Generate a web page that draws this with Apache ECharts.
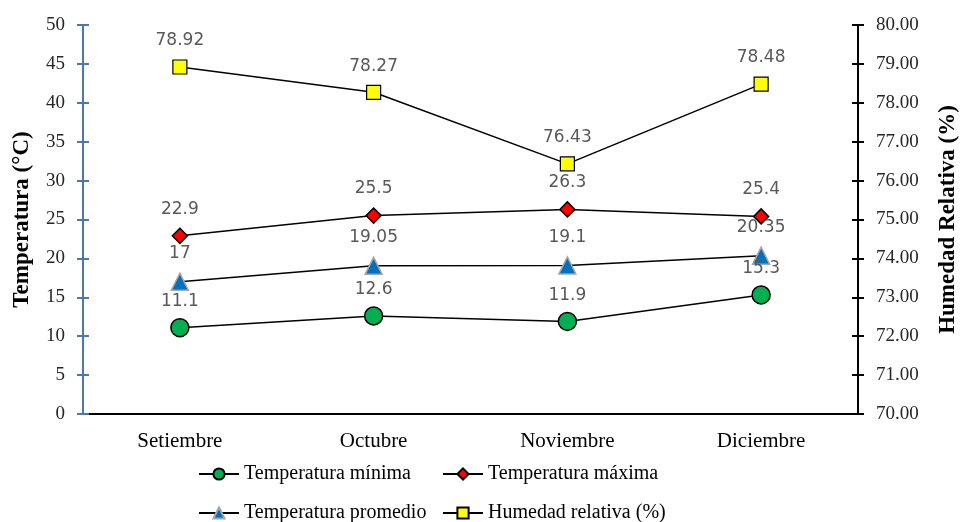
<!DOCTYPE html>
<html><head><meta charset="utf-8">
<script src="https://cdn.jsdelivr.net/npm/echarts@6/dist/echarts.min.js"></script>
<style>html,body{margin:0;padding:0;background:#fff}#c{width:960px;height:522px}</style>
</head><body><div id="c"></div>
<script>
var categories = ['Setiembre', 'Octubre', 'Noviembre', 'Diciembre'];
var tempMin = [11.1, 12.6, 11.9, 15.3];
var tempMax = [22.9, 25.5, 26.3, 25.4];
var tempProm = [17, 19.05, 19.1, 20.35];
var humedad = [78.92, 78.27, 76.43, 78.48];
var names = ['Temperatura mínima', 'Temperatura máxima', 'Temperatura promedio', 'Humedad relativa (%)'];

var serif = '"Liberation Serif", "Times New Roman", serif';
var lblStyle = {show: true, position: 'top', distance: 10, color: '#595959', fontFamily: 'DejaVu Sans', fontSize: 17};
var lineStyle = {color: '#000', width: 1.5};

function leg(name, left, top) {
  return {left: left, top: top, itemWidth: 40, itemHeight: 14, itemGap: 8, data: [name],
    textStyle: {fontFamily: serif, fontSize: 20, color: '#000'}};
}

var chart = echarts.init(document.getElementById('c'));
chart.setOption({
  animation: false,
  grid: {left: 83, right: 102, top: 25, bottom: 108, outerBoundsMode: 'none', containLabel: false},
  xAxis: {
    type: 'category', data: categories, boundaryGap: true,
    axisLine: {lineStyle: {color: '#000', width: 2}},
    axisTick: {show: false},
    axisLabel: {color: '#000', fontFamily: serif, fontSize: 21, margin: 17}
  },
  yAxis: [
    {type: 'value', min: 0, max: 50, interval: 5, position: 'left',
     name: 'Temperatura (°C)', nameLocation: 'middle', nameGap: 49,
     nameTextStyle: {fontFamily: serif, fontWeight: 'bold', fontSize: 23, color: '#000'},
     axisLine: {show: true, lineStyle: {color: '#4a78a8', width: 2}},
     axisTick: {show: true, length: 6, lineStyle: {color: '#4a78a8', width: 2}},
     axisLabel: {color: '#262626', fontFamily: serif, fontSize: 19, margin: 18},
     splitLine: {show: false}},
    {type: 'value', min: 70, max: 80, interval: 1, position: 'right',
     name: 'Humedad Relativa (%)', nameLocation: 'middle', nameGap: 79,
     nameTextStyle: {fontFamily: serif, fontWeight: 'bold', fontSize: 23, color: '#000'},
     axisLine: {show: true, lineStyle: {color: '#000', width: 2}},
     axisTick: {show: true, length: 6, lineStyle: {color: '#000', width: 2}},
     axisLabel: {color: '#262626', fontFamily: serif, fontSize: 19, margin: 18,
       formatter: function (v) { return v.toFixed(2); }},
     splitLine: {show: false}},
    {type: 'value', min: 0, max: 50, interval: 5, position: 'left',
     axisLine: {show: false}, axisLabel: {show: false}, splitLine: {show: false},
     axisTick: {show: true, inside: true, length: 6, lineStyle: {color: '#4a78a8', width: 2}}},
    {type: 'value', min: 70, max: 80, interval: 1, position: 'right',
     axisLine: {show: false}, axisLabel: {show: false}, splitLine: {show: false},
     axisTick: {show: true, inside: true, length: 6, lineStyle: {color: '#000', width: 2}}}
  ],
  legend: [
    leg(names[0], 193, 459),
    leg(names[1], 437, 459),
    leg(names[2], 193, 498),
    leg(names[3], 437, 498)
  ],
  series: [
    {name: names[0], type: 'line', yAxisIndex: 0, data: tempMin,
     symbol: 'circle', symbolSize: 18, lineStyle: lineStyle,
     itemStyle: {color: '#00b050', borderColor: '#000', borderWidth: 1.5},
     label: Object.assign({}, lblStyle, {distance: 8})},
    {name: names[1], type: 'line', yAxisIndex: 0, data: tempMax,
     symbol: 'diamond', symbolSize: 15, lineStyle: lineStyle,
     itemStyle: {color: '#ff0000', borderColor: '#000', borderWidth: 1.5},
     label: lblStyle},
    {name: names[2], type: 'line', yAxisIndex: 0, data: tempProm,
     symbol: 'triangle', symbolSize: 17, lineStyle: lineStyle,
     itemStyle: {color: '#0070c0', borderColor: '#a6a6a6', borderWidth: 1.5},
     label: lblStyle},
    {name: names[3], type: 'line', yAxisIndex: 1, data: humedad,
     symbol: 'rect', symbolSize: 14, lineStyle: lineStyle,
     itemStyle: {color: '#ffff00', borderColor: '#000', borderWidth: 1.2},
     label: lblStyle}
  ]
});
</script></body></html>
